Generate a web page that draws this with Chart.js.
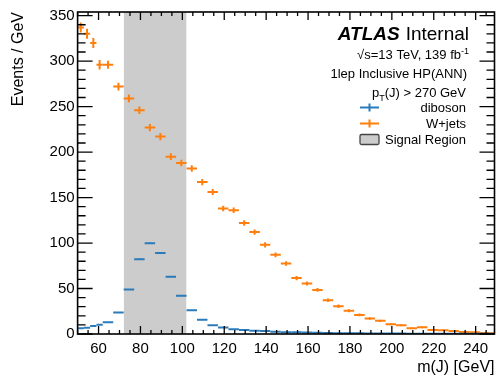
<!DOCTYPE html>
<html>
<head>
<meta charset="utf-8">
<script src="https://cdn.jsdelivr.net/npm/chart.js@4"></script>
<style>
  html, body { margin: 0; padding: 0; background: #fff; }
</style>
</head>
<body>
<canvas id="grafico" width="497" height="377"></canvas>
<script>
// bin edges (GeV): 3 GeV bins up to 62, then 5 GeV
const binEdges = [50, 53, 56, 59, 62, 67, 72, 77, 82, 87, 92, 97, 102, 107, 112, 117, 122, 127, 132, 137,
  142, 147, 152, 157, 162, 167, 172, 177, 182, 187, 192, 197, 202, 207, 212, 217, 222, 227, 232, 237,
  242, 247, 252];

const wjets = [337, 330, 320, 296, 296, 272, 259, 246, 227, 217, 195, 188, 182, 167, 156, 138, 136, 122,
  112, 98, 87, 77.5, 61.5, 55.5, 48.5, 37, 30.5, 25.5, 21, 17, 14.5, 10.6, 9.5, 6.3, 7.3, 4.5, 4, 3.3,
  2.3, 1.8, 1.1, 0.8];
const wjetsErr = [5.5, 5.5, 5.5, 5.3, 4.5, 4.3, 4.2, 4.1, 4, 3.9, 3.7, 3.6, 3.5, 3.4, 3.3, 3.1, 3.1, 3,
  2.9, 2.8, 2.6, 2.5, 2.3, 2.2, 2.1, 1.9, 1.8, 1.6, 1.5, 1.4, 1.3, 1.1, 1.1, 0.9, 1, 0.8, 0.7, 0.7,
  0.6, 0.5, 0.4, 0.4];

const diboson = [6.3, 6.9, 8.7, 10.2, 12.8, 23.7, 49, 82.3, 99.9, 89, 63, 42, 26, 15.6, 9.5, 7.2, 5.1,
  4.3, 3.7, 3.3, 2.6, 2.0, 1.8, 1.6, 1.3, 1.1, 0.9, 0.8, 0.7, 0.6, 0.6, 0.5, 0.5, 0.4, 0.4, 0.3, 0.3,
  0.3, 0.2, 0.2, 0.2, 0.2];
const dibosonErr = [0.4, 0.4, 0.4, 0.4, 0.4, 0.5, 0.6, 0.7, 0.8, 0.7, 0.6, 0.5, 0.5, 0.4, 0.3, 0.3, 0.2,
  0.2, 0.2, 0.2, 0.2, 0.1, 0.1, 0.1, 0.1, 0.1, 0.1, 0.1, 0.1, 0.1, 0.1, 0.1, 0.1, 0.1, 0.1, 0.1, 0.1,
  0.1, 0.1, 0.1, 0.1, 0.1];

const signalRegion = [72, 102];
const xTickLabels = [60, 80, 100, 120, 140, 160, 180, 200, 220, 240];
const yTickLabels = [0, 50, 100, 150, 200, 250, 300, 350];

const orange = '#ff7f0e';
const blue = '#2b7bba';
const font = '"Liberation Sans", Arial, sans-serif';

function toPoints(vals) {
  return vals.map((v, i) => ({ x: (binEdges[i] + binEdges[i + 1]) / 2, y: v }));
}

// half bin width in pixels -> horizontal bar
function halfBin(ctx) {
  if (ctx.dataIndex === undefined) return 0;
  const xs = ctx.chart.scales.x;
  const i = ctx.dataIndex;
  return Math.abs(xs.getPixelForValue(binEdges[i + 1]) - xs.getPixelForValue(binEdges[i])) / 2;
}

// error in pixels -> vertical bar
function halfErr(errs) {
  return function (ctx) {
    if (ctx.dataIndex === undefined) return 0;
    const ys = ctx.chart.scales.y;
    const i = ctx.dataIndex;
    const v = ctx.dataset.data[i].y;
    return Math.abs(ys.getPixelForValue(v - errs[i]) - ys.getPixelForValue(v + errs[i])) / 2;
  };
}

function hBar(label, vals, color) {
  return {
    label: label, data: toPoints(vals), showLine: false,
    pointStyle: 'line', pointRadius: halfBin, pointBorderWidth: 2,
    borderColor: color, pointBorderColor: color, pointHoverRadius: halfBin
  };
}
function vBar(label, vals, errs, color) {
  return {
    label: label, data: toPoints(vals), showLine: false,
    pointStyle: 'line', pointRotation: 90, pointRadius: halfErr(errs), pointBorderWidth: 2,
    borderColor: color, pointBorderColor: color
  };
}

// frame + inward ticks on all four sides
const frameTicks = {
  id: 'frameTicks',
  afterDatasetsDraw(chart) {
    const { ctx, chartArea: a, scales: { x, y } } = chart;
    ctx.save();
    ctx.strokeStyle = '#000';
    ctx.lineWidth = 1.3;
    ctx.beginPath();
    for (let v = 50; v <= x.max; v += 5) {
      const px = x.getPixelForValue(v);
      const len = v % 20 === 0 ? 8 : 4;
      ctx.moveTo(px, a.bottom); ctx.lineTo(px, a.bottom - len);
      ctx.moveTo(px, a.top); ctx.lineTo(px, a.top + len);
    }
    for (let v = 0; v <= y.max; v += 10) {
      const py = y.getPixelForValue(v);
      const len = v % 50 === 0 ? 15 : 8;
      ctx.moveTo(a.left, py); ctx.lineTo(a.left + len, py);
      ctx.moveTo(a.right, py); ctx.lineTo(a.right - len, py);
    }
    ctx.stroke();
    ctx.lineWidth = 1.6;
    ctx.strokeRect(a.left, a.top, a.right - a.left, a.bottom - a.top);
    ctx.restore();
  }
};

// ATLAS label and legend
const labels = {
  id: 'labels',
  afterDraw(chart) {
    const ctx = chart.ctx;
    ctx.save();
    ctx.fillStyle = '#000';
    ctx.textBaseline = 'alphabetic';

    // ATLAS Internal
    const R = 469;
    ctx.font = '19px ' + font;
    ctx.textAlign = 'right';
    ctx.fillText('Internal', R, 40);
    const wInt = ctx.measureText('Internal').width;
    ctx.font = 'italic bold 19px ' + font;
    ctx.fillText('ATLAS', R - wInt - 6, 40);

    // sqrt(s) line
    ctx.font = '9px ' + font;
    const wSup = ctx.measureText('-1').width;
    ctx.textAlign = 'left';
    ctx.fillText('-1', R - wSup, 54);
    ctx.font = '13px ' + font;
    ctx.textAlign = 'right';
    ctx.fillText('\u221As=13 TeV, 139 fb', R - wSup, 59);

    ctx.fillText('1lep Inclusive HP(ANN)', 467, 78);

    // pT line
    const R2 = 466;
    const rest = '(J) > 270 GeV';
    ctx.fillText(rest, R2, 97);
    const wRest = ctx.measureText(rest).width;
    ctx.font = '9px ' + font;
    const wT = ctx.measureText('T').width;
    ctx.fillText('T', R2 - wRest, 101);
    ctx.font = '13px ' + font;
    ctx.fillText('p', R2 - wRest - wT, 97);

    // legend entries
    const rows = [
      { text: 'diboson', color: blue, base: 112 },
      { text: 'W+jets', color: orange, base: 128 },
      { text: 'Signal Region', box: true, base: 144 }
    ];
    const mx = 369.5;
    rows.forEach(r => {
      ctx.font = '13px ' + font;
      ctx.fillStyle = '#000';
      ctx.textAlign = 'right';
      ctx.fillText(r.text, R2, r.base);
      const cy = r.base - 4.5;
      if (r.box) {
        ctx.fillStyle = '#cccccc';
        ctx.strokeStyle = '#444';
        ctx.lineWidth = 1.3;
        ctx.beginPath();
        ctx.roundRect(mx - 9.5, cy - 5, 19, 10, 1.5);
        ctx.fill();
        ctx.stroke();
      } else {
        ctx.strokeStyle = r.color;
        ctx.lineWidth = 2;
        ctx.beginPath();
        ctx.moveTo(mx - 9.5, cy); ctx.lineTo(mx + 9.5, cy);
        ctx.moveTo(mx, cy - 4); ctx.lineTo(mx, cy + 4);
        ctx.stroke();
      }
    });
    ctx.restore();
  }
};

Chart.defaults.font.family = font;
Chart.defaults.color = '#000';

const ctx = document.getElementById('grafico').getContext('2d');
const myChart = new Chart(ctx, {
  type: 'scatter',
  data: {
    datasets: [
      hBar('diboson', diboson, blue),
      vBar('diboson err', diboson, dibosonErr, blue),
      hBar('W+jets', wjets, orange),
      vBar('W+jets err', wjets, wjetsErr, orange),
      {
        type: 'line', label: 'Signal Region', showLine: true,
        data: signalRegion.map(v => ({ x: v, y: 0 })),
        fill: 'end', backgroundColor: '#cccccc', borderWidth: 0, pointRadius: 0
      }
    ]
  },
  options: {
    responsive: false,
    animation: false,
    events: [],
    layout: { padding: { top: 10, right: 2.5, left: 0, bottom: 0 } },
    plugins: { legend: { display: false }, tooltip: { enabled: false } },
    scales: {
      x: {
        type: 'linear', min: 50, max: 249,
        grid: { display: false, drawTicks: false }, border: { display: false },
        afterBuildTicks: s => { s.ticks = xTickLabels.map(v => ({ value: v })); },
        afterFit: s => { s.height = 43; },
        ticks: { font: { size: 15 }, padding: 6, maxRotation: 0, autoSkip: false },
        title: { display: true, text: 'm(J) [GeV]', align: 'end', font: { size: 16 }, padding: { top: 0, bottom: 0 } }
      },
      y: {
        type: 'linear', min: 0, max: 354,
        grid: { display: false, drawTicks: false }, border: { display: false },
        afterBuildTicks: s => { s.ticks = yTickLabels.map(v => ({ value: v })); },
        afterFit: s => { s.width = 77.6; },
        ticks: { font: { size: 15 }, padding: 3, autoSkip: false },
        title: { display: true, text: 'Events / GeV', align: 'end', font: { size: 16 }, padding: { top: 9, bottom: 0 } }
      }
    }
  },
  plugins: [frameTicks, labels]
});
</script>
</body>
</html>
